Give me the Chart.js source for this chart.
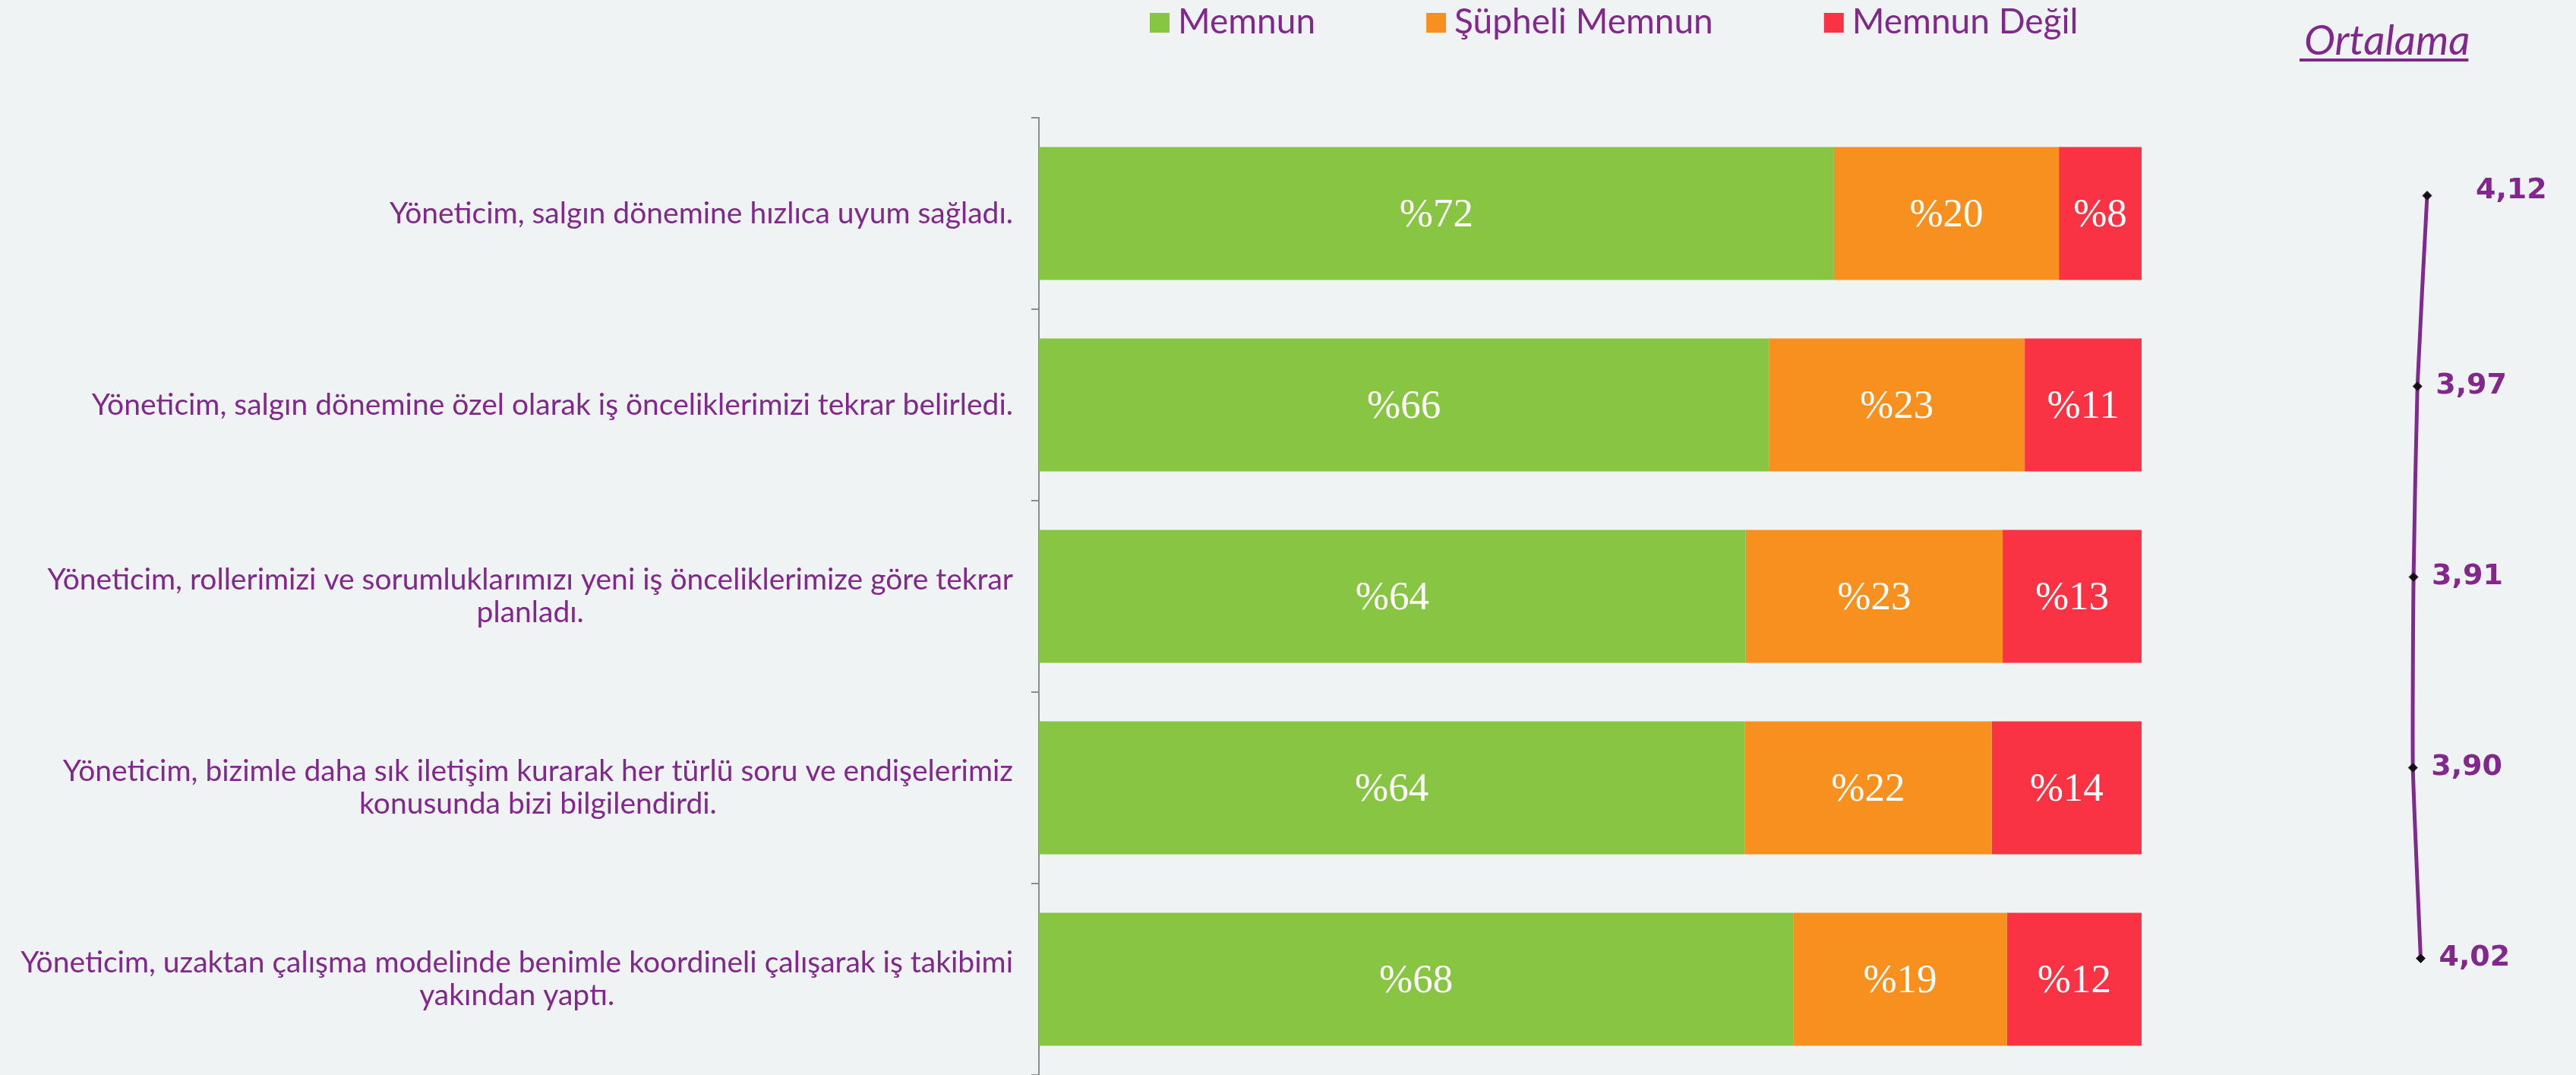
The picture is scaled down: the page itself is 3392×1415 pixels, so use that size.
<!DOCTYPE html>
<html>
<head>
<meta charset="utf-8">
<script src="https://cdn.jsdelivr.net/npm/chart.js@4.4.1/dist/chart.umd.min.js"></script>
<style>
html, body { margin: 0; padding: 0; background: #EFF3F4; }
#wrap { position: relative; width: 3392px; height: 1415px; overflow: hidden; }
#wrap canvas { position: absolute; left: 0; top: 0; }
</style>
</head>
<body>
<div id="wrap">
  <canvas id="bars" width="3392" height="1415"></canvas>
  <canvas id="avg" width="3392" height="1415"></canvas>
</div>
<script>
// ---------- DATA ----------
const categories = [
  ["Yöneticim, salgın dönemine hızlıca uyum sağladı."],
  ["Yöneticim, salgın dönemine özel olarak iş önceliklerimizi tekrar belirledi."],
  ["Yöneticim, rollerimizi ve sorumluklarımızı yeni iş önceliklerimize göre tekrar", "planladı."],
  ["Yöneticim, bizimle daha sık iletişim kurarak her türlü soru ve endişelerimiz", "konusunda bizi bilgilendirdi."],
  ["Yöneticim, uzaktan çalışma modelinde benimle koordineli çalışarak iş takibimi", "yakından yaptı."]
];
const seriesNames = ["Memnun", "Şüpheli Memnun", "Memnun Değil"];
const memnun  = [72.1, 66.2, 64.1, 64.0, 68.4];
const supheli = [20.4, 23.2, 23.3, 22.4, 19.4];
const degil   = [7.5, 10.6, 12.6, 13.6, 12.2];
const ortalama = [4.12, 3.97, 3.91, 3.90, 4.02];
const ortalamaLabels = ["4,12", "3,97", "3,91", "3,90", "4,02"];
const ortalamaTitle = "Ortalama";

// ---------- STYLE ----------
const PURPLE = '#82288C';
const COLORS = ['#88C542', '#F7901E', '#F93343'];

// Bar value labels, category labels and legend
const barDecor = {
  id: 'barDecor',
  afterDatasetsDraw(chart) {
    const ctx = chart.ctx;
    ctx.save();
    ctx.fillStyle = '#FFFFFF';
    ctx.font = '53px "Liberation Serif", serif';
    ctx.textAlign = 'center';
    ctx.textBaseline = 'middle';
    chart.data.datasets.forEach((ds, di) => {
      const meta = chart.getDatasetMeta(di);
      meta.data.forEach((bar, i) => {
        const cx = (bar.x + bar.base) / 2;
        ctx.fillText('%' + Math.round(ds.data[i]), cx, bar.y + 3);
      });
    });
    ctx.restore();
  },
  afterDraw(chart) {
    const ctx = chart.ctx;
    const yScale = chart.scales.y;
    ctx.save();
    // category labels: block right aligned, lines centered
    ctx.fillStyle = PURPLE;
    ctx.font = '39px Lato, sans-serif';
    ctx.textAlign = 'center';
    ctx.textBaseline = 'middle';
    const right = chart.chartArea.left - 34;
    const lh = 43;
    chart.data.labels.forEach((lines, i) => {
      const yc = yScale.getPixelForValue(i);
      const widest = Math.max(...lines.map(l => ctx.measureText(l).width));
      const cx = right - widest / 2;
      const y0 = yc - (lines.length - 1) * lh / 2;
      lines.forEach((l, k) => ctx.fillText(l, cx, y0 + k * lh));
    });
    // legend
    ctx.font = '46px Lato, sans-serif';
    ctx.textAlign = 'left';
    ctx.textBaseline = 'alphabetic';
    let x = 1514;
    chart.data.datasets.forEach(ds => {
      ctx.fillStyle = ds.backgroundColor;
      ctx.fillRect(x, 17, 26, 26);
      ctx.fillStyle = PURPLE;
      ctx.fillText(ds.label, x + 37, 44);
      x += 37 + ctx.measureText(ds.label).width + 146;
    });
    ctx.restore();
  }
};

new Chart(document.getElementById('bars'), {
  type: 'bar',
  data: {
    labels: categories,
    datasets: [
      { label: seriesNames[0], data: memnun,  backgroundColor: COLORS[0] },
      { label: seriesNames[1], data: supheli, backgroundColor: COLORS[1] },
      { label: seriesNames[2], data: degil,   backgroundColor: COLORS[2] }
    ]
  },
  options: {
    indexAxis: 'y',
    responsive: false,
    animation: false,
    devicePixelRatio: 1,
    layout: { padding: { left: 0, right: 572, top: 155, bottom: 0 } },
    datasets: { bar: { barPercentage: 0.695, categoryPercentage: 1, borderWidth: 0 } },
    scales: {
      x: { stacked: true, min: 0, max: 100, display: false },
      y: {
        stacked: true,
        offset: true,
        ticks: { display: false },
        grid: { display: true, offset: true, drawOnChartArea: false, drawTicks: true, tickLength: 10, color: '#8C8C8C', lineWidth: 2 },
        border: { display: true, color: '#8C8C8C', width: 2 },
        afterFit(s) { s.width = 1368; }
      }
    },
    plugins: { legend: { display: false }, tooltip: { enabled: false } }
  },
  plugins: [barDecor]
});

// Average line labels + title
const avgDecor = {
  id: 'avgDecor',
  afterDatasetsDraw(chart, args, opts) {
    const ctx = chart.ctx;
    ctx.save();
    const meta = chart.getDatasetMeta(0);
    ctx.fillStyle = PURPLE;
    ctx.font = 'bold 38px "DejaVu Sans", sans-serif';
    ctx.textAlign = 'left';
    ctx.textBaseline = 'middle';
    meta.data.forEach((pt, i) => {
      ctx.fillText(ortalamaLabels[i], pt.x + opts.dx[i], pt.y + opts.dy[i]);
    });
    // title with underline
    ctx.font = 'italic 55px Lato, sans-serif';
    ctx.textBaseline = 'alphabetic';
    const tx = 3034, ty = 72;
    ctx.fillText(ortalamaTitle, tx, ty);
    const w = ctx.measureText(ortalamaTitle).width;
    ctx.fillRect(tx - 6, ty + 5, w + 4, 4);
    ctx.restore();
  }
};

new Chart(document.getElementById('avg'), {
  type: 'line',
  data: {
    labels: categories,
    datasets: [{
      label: ortalamaTitle,
      data: ortalama,
      borderColor: '#7E2A8E',
      borderWidth: 5,
      tension: 0.15,
      fill: false,
      pointStyle: 'rectRot',
      pointRadius: 6,
      pointBackgroundColor: '#111111',
      pointBorderColor: '#4A1A55',
      pointBorderWidth: 1
    }]
  },
  options: {
    indexAxis: 'y',
    responsive: false,
    animation: false,
    devicePixelRatio: 1,
    layout: { padding: { left: 3092, right: 121, top: 132, bottom: 28 } },
    scales: {
      x: { type: 'linear', min: 2.9, max: 5.0, display: false },
      y: { type: 'category', offset: true, display: false }
    },
    plugins: {
      legend: { display: false },
      tooltip: { enabled: false },
      avgDecor: { dx: [64, 24, 24, 24, 24], dy: [-6, 0, 0, 0, 0] }
    }
  },
  plugins: [avgDecor]
});
</script>
</body>
</html>
